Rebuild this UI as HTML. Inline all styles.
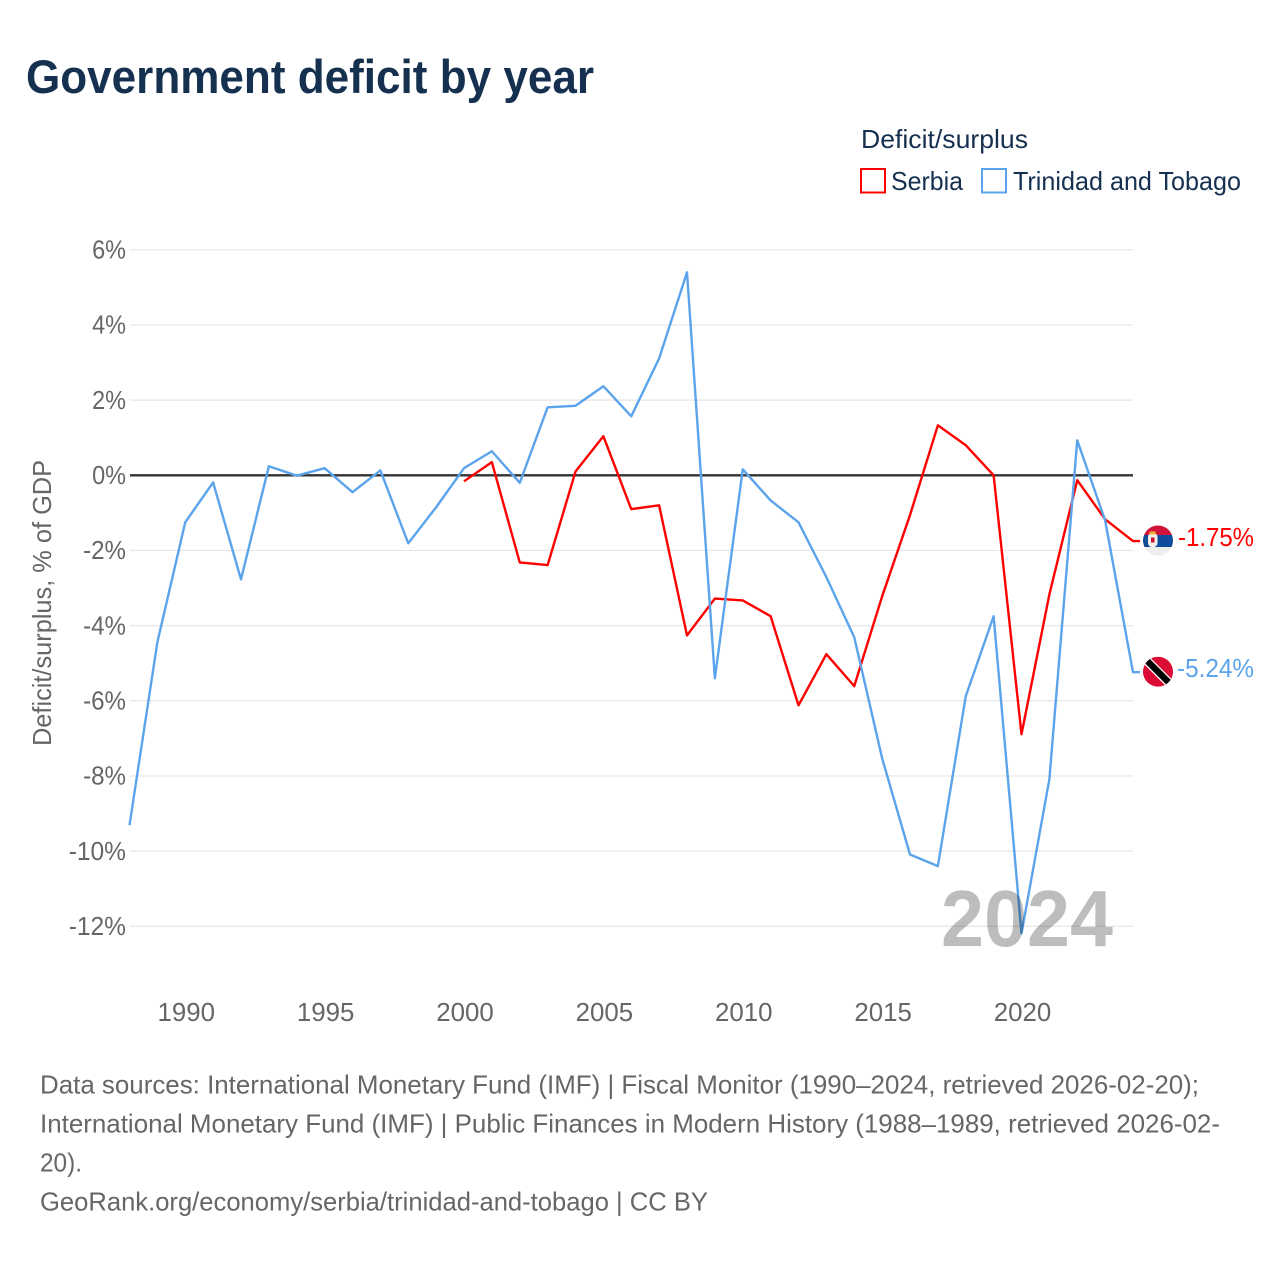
<!DOCTYPE html>
<html lang="en">
<head>
<meta charset="utf-8">
<title>Government deficit by year</title>
<style>
html,body{margin:0;padding:0;background:#fff;}
svg{display:block;font-family:"Liberation Sans",sans-serif;}
</style>
</head>
<body>
<svg id="chart" xmlns="http://www.w3.org/2000/svg" width="1280" height="1280" viewBox="0 0 1280 1280">
  <rect x="0" y="0" width="1280" height="1280" fill="#fff"/>
  <text x="26" y="93" font-size="47" font-weight="700" fill="#163050" textLength="568" lengthAdjust="spacingAndGlyphs">Government deficit by year</text>

  <g>
    <text x="861" y="148" font-size="26" fill="#163050" textLength="167" lengthAdjust="spacingAndGlyphs">Deficit/surplus</text>
    <rect x="861" y="169" width="24" height="23.5" fill="#fff" stroke="#ff0000" stroke-width="2"/>
    <text x="891" y="190" font-size="26" fill="#163050" textLength="72" lengthAdjust="spacingAndGlyphs">Serbia</text>
    <rect x="982" y="169" width="24" height="23.5" fill="#fff" stroke="#5ba4ec" stroke-width="2"/>
    <text x="1013" y="190" font-size="26" fill="#163050" textLength="228" lengthAdjust="spacingAndGlyphs">Trinidad and Tobago</text>
  </g>

  <g id="grid"></g>
  <g id="yticks"></g>
  <g id="xticks"></g>
  <text transform="translate(51,746) rotate(-90)" x="0" y="0" font-size="26" fill="#666" textLength="286" lengthAdjust="spacingAndGlyphs">Deficit/surplus, % of GDP</text>
  <g id="series"></g>
  <text x="941" y="946" font-size="80" font-weight="700" fill="#000" fill-opacity="0.26" textLength="172" lengthAdjust="spacingAndGlyphs">2024</text>

  <defs>
    <clipPath id="clip-serbia"><circle cx="1158" cy="540.5" r="15"/></clipPath>
    <clipPath id="clip-tt"><circle cx="1158" cy="671.7" r="15"/></clipPath>
  </defs>
  <g clip-path="url(#clip-serbia)">
    <rect x="1143" y="525" width="30" height="10" fill="#d3123c"/>
    <rect x="1143" y="535" width="30" height="12" fill="#0f4d9c"/>
    <rect x="1143" y="547" width="30" height="9" fill="#eeeeee"/>
    <rect x="1148" y="533" width="9.5" height="14" rx="4" fill="#f6f1ea"/>
    <rect x="1149.5" y="531.5" width="6" height="3" fill="#f0b93a"/>
    <rect x="1151" y="537.5" width="3.5" height="5" fill="#c8102e"/>
  </g>
  <g clip-path="url(#clip-tt)">
    <rect x="1143" y="656.7" width="30" height="30" fill="#da0b34"/>
    <line x1="1143" y1="656.7" x2="1173" y2="686.7" stroke="#fff" stroke-width="9"/>
    <line x1="1143" y1="656.7" x2="1173" y2="686.7" stroke="#000" stroke-width="6.5"/>
  </g>
  <text id="label-serbia" x="1178" y="546" font-size="26" fill="#ff0000" textLength="76" lengthAdjust="spacingAndGlyphs"></text>
  <text id="label-tt" x="1177" y="677" font-size="26" fill="#5ba4ec" textLength="77" lengthAdjust="spacingAndGlyphs"></text>

  <g font-size="26" fill="#666">
    <text x="40" y="1093.5" textLength="1159" lengthAdjust="spacingAndGlyphs">Data sources: International Monetary Fund (IMF) | Fiscal Monitor (1990–2024, retrieved 2026-02-20);</text>
    <text x="40" y="1132.5" textLength="1180" lengthAdjust="spacingAndGlyphs">International Monetary Fund (IMF) | Public Finances in Modern History (1988–1989, retrieved 2026-02-</text>
    <text x="40" y="1171.5" textLength="42" lengthAdjust="spacingAndGlyphs">20).</text>
    <text x="40" y="1210.5" textLength="668" lengthAdjust="spacingAndGlyphs">GeoRank.org/economy/serbia/trinidad-and-tobago | CC BY</text>
  </g>
</svg>
<script>
const yTickValues = [6, 4, 2, 0, -2, -4, -6, -8, -10, -12];
const xTickYears = [1990, 1995, 2000, 2005, 2010, 2015, 2020];
const ttYears = [1988,1989,1990,1991,1992,1993,1994,1995,1996,1997,1998,1999,2000,2001,2002,2003,2004,2005,2006,2007,2008,2009,2010,2011,2012,2013,2014,2015,2016,2017,2018,2019,2020,2021,2022,2023,2024];
const ttValues = [-9.31,-4.44,-1.25,-0.19,-2.77,0.24,-0.01,0.19,-0.45,0.13,-1.81,-0.85,0.19,0.64,-0.2,1.81,1.85,2.37,1.57,3.11,5.4,-5.4,0.16,-0.67,-1.25,-2.71,-4.31,-7.53,-10.09,-10.4,-5.88,-3.75,-12.19,-8.09,0.93,-1.2,-5.24];
const serbiaYears = [2000,2001,2002,2003,2004,2005,2006,2007,2008,2009,2010,2011,2012,2013,2014,2015,2016,2017,2018,2019,2020,2021,2022,2023,2024];
const serbiaValues = [-0.16,0.35,-2.32,-2.39,0.1,1.04,-0.9,-0.8,-4.26,-3.28,-3.33,-3.75,-6.12,-4.76,-5.61,-3.22,-1.06,1.33,0.8,0,-6.89,-3.17,-0.13,-1.17,-1.75];

const NS = 'http://www.w3.org/2000/svg';
const xScale = function (year) { return 129.5 + (year - 1988) * (1133 - 129.5) / 36; };
const yScale = function (v) { return 475.3 - v * 37.58; };
function mk(tag, parent) {
  const e = document.createElementNS(NS, tag);
  parent.appendChild(e);
  return e;
}
function tickWidth(s) {
  let w = 0;
  for (const c of s) { w += c === '%' ? 19.5 : c === '-' ? 9 : 14.4; }
  return w;
}

const gridG = document.getElementById('grid');
const yG = document.getElementById('yticks');
yTickValues.forEach(function (v) {
  const y = yScale(v);
  const line = mk('line', gridG);
  
  
  line.setAttribute('x1', 130);
  line.setAttribute('x2', 1133);
  line.setAttribute('y1', y);
  line.setAttribute('y2', y);
  line.setAttribute('stroke', v === 0 ? '#333333' : '#e6e6e6');
  line.setAttribute('stroke-width', v === 0 ? 2.4 : 1.2);
  const t = mk('text', yG);
  
  
  const s = v + '%';
  t.setAttribute('x', 126);
  t.setAttribute('y', y + 8.7);
  t.setAttribute('text-anchor', 'end');
  t.setAttribute('font-size', 26);
  t.setAttribute('fill', '#666');
  t.setAttribute('textLength', tickWidth(s));
  t.setAttribute('lengthAdjust', 'spacingAndGlyphs');
  t.textContent = s;
});

const xG = document.getElementById('xticks');
xTickYears.forEach(function (yr) {
  const t = mk('text', xG);
  
  
  t.setAttribute('x', xScale(yr) + 1);
  t.setAttribute('y', 1021);
  t.setAttribute('text-anchor', 'middle');
  t.setAttribute('font-size', 26);
  t.setAttribute('fill', '#666');
  t.setAttribute('textLength', 57.5);
  t.setAttribute('lengthAdjust', 'spacingAndGlyphs');
  t.textContent = yr;
});

const seriesG = document.getElementById('series');
function drawLine(years, values, color, name) {
  const pts = years.map(function (yr, i) { return xScale(yr) + ',' + yScale(values[i]); });
  const lastY = yScale(values[values.length - 1]);
  pts.push((xScale(years[years.length - 1]) + 7) + ',' + lastY);
  const p = mk('polyline', seriesG);
  
  
  p.setAttribute('points', pts.join(' '));
  p.setAttribute('fill', 'none');
  p.setAttribute('stroke', color);
  p.setAttribute('stroke-width', 2.4);
  p.setAttribute('stroke-linejoin', 'round');
}
drawLine(serbiaYears, serbiaValues, '#ff0000', 'serbia-line');
drawLine(ttYears, ttValues, '#5ba4ec', 'trinidad-and-tobago-line');

document.getElementById('label-serbia').textContent = serbiaValues[serbiaValues.length - 1].toFixed(2) + '%';
document.getElementById('label-tt').textContent = ttValues[ttValues.length - 1].toFixed(2) + '%';
</script>
</body>
</html>
